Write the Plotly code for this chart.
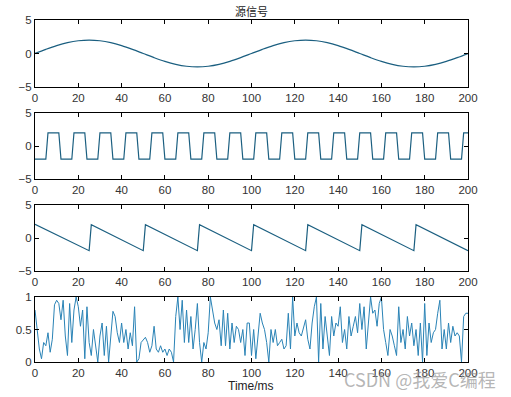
import plotly.graph_objects as go

# ---------------- data ----------------
sine_t = [0, 5, 10, 15, 20, 25, 30, 35, 40, 45, 50, 55, 60, 65, 70, 75, 80, 85, 90, 95,
          100, 105, 110, 115, 120, 125, 130, 135, 140, 145, 150, 155, 160, 165, 170, 175,
          180, 185, 190, 195, 200]
sine_v = [0, 0.618, 1.176, 1.618, 1.902, 2.0, 1.902, 1.618, 1.176, 0.618,
          0, -0.618, -1.176, -1.618, -1.902, -2.0, -1.902, -1.618, -1.176, -0.618,
          0, 0.618, 1.176, 1.618, 1.902, 2.0, 1.902, 1.618, 1.176, 0.618,
          0, -0.618, -1.176, -1.618, -1.902, -2.0, -1.902, -1.618, -1.176, -0.618, 0]

sq_t = [0, 5, 6, 11, 12, 17, 18, 23, 24, 29, 30, 35, 36, 41, 42, 47, 48, 53, 54, 59,
        60, 65, 66, 71, 72, 77, 78, 83, 84, 89, 90, 95, 96, 101, 102, 107, 108, 113,
        114, 119, 120, 125, 126, 131, 132, 137, 138, 143, 144, 149, 150, 155, 156, 161,
        162, 167, 168, 173, 174, 179, 180, 185, 186, 191, 192, 197, 198, 200]
sq_v = [-2, -2, 2, 2, -2, -2, 2, 2, -2, -2, 2, 2, -2, -2, 2, 2, -2, -2, 2, 2,
        -2, -2, 2, 2, -2, -2, 2, 2, -2, -2, 2, 2, -2, -2, 2, 2, -2, -2,
        2, 2, -2, -2, 2, 2, -2, -2, 2, 2, -2, -2, 2, 2, -2, -2,
        2, 2, -2, -2, 2, 2, -2, -2, 2, 2, -2, -2, 2, 2]

saw_t = [0, 25, 26, 50, 51, 75, 76, 100, 101, 125, 126, 150, 151, 175, 176, 200]
saw_v = [2.08, -1.92, 2.0, -1.92, 2.0, -1.92, 2.0, -1.92, 2.0, -1.92, 2.0, -1.92,
         2.0, -1.92, 2.0, -1.92]

noise_v = [
    0.80, 0.45, 0.20, 0.05, 0.30, 0.25, 0.45, 0.15, 0.35, 0.88,
    0.95, 0.90, 0.65, 0.95, 0.40, 0.10, 0.90, 0.30, 0.80, 1.00,
    0.85, 0.55, 0.80, 0.05, 0.85, 0.30, 0.10, 0.50, 0.20, 0.00,
    0.40, 0.60, 0.10, 0.55, 0.00, 0.40, 0.78, 0.70, 0.45, 0.30,
    0.60, 0.30, 0.50, 0.20, 0.45, 0.25, 0.85, 0.00, 0.05, 0.30,
    0.35, 0.38, 0.30, 0.15, 0.25, 0.55, 0.20, 0.15, 0.25, 0.15,
    0.20, 0.10, 0.20, 0.15, 0.00, 0.70, 1.00, 0.50, 0.95, 0.30,
    0.80, 0.30, 0.70, 0.20, 0.50, 0.90, 0.30, 0.00, 0.30, 0.20,
    0.45, 1.00, 0.80, 0.60, 0.50, 0.65, 0.25, 0.80, 0.25, 0.75,
    0.20, 0.60, 0.30, 0.55, 0.50, 0.30, 0.50, 0.10, 0.60, 0.60,
    0.10, 0.50, 0.05, 0.35, 0.75, 0.60, 0.50, 0.30, 0.00, 0.50,
    0.30, 0.50, 0.25, 0.30, 0.35, 0.20, 0.25, 0.75, 0.20, 1.00,
    0.40, 0.60, 0.45, 0.40, 0.55, 0.65, 0.35, 0.20, 0.60, 0.85,
    1.00, 0.00, 0.90, 0.20, 0.70, 0.40, 0.10, 0.70, 0.40, 0.60,
    0.55, 0.85, 0.30, 0.50, 0.20, 0.70, 0.40, 0.55, 0.70, 0.45,
    0.90, 0.50, 0.85, 0.20, 0.65, 1.00, 0.75, 0.80, 0.55, 0.90,
    1.00, 0.50, 0.30, 0.10, 0.50, 0.40, 0.25, 0.10, 0.85, 0.30,
    0.50, 0.20, 0.70, 0.40, 0.60, 0.25, 0.50, 0.10, 0.60, 0.00,
    0.90, 0.10, 0.60, 0.30, 0.45, 0.50, 0.75, 0.95, 0.20, 0.50,
    0.20, 0.60, 0.30, 0.55, 0.40, 0.45, 0.40, 0.00, 0.70, 0.75,
    0.75]
noise_t = list(range(len(noise_v)))

x_ticks = [0, 20, 40, 60, 80, 100, 120, 140, 160, 180, 200]
y_ticks_sig = [-5, 0, 5]
y_ticks_noise = [0, 0.5, 1]

title_text = "源信号"
xlabel_text = "Time/ms"
watermark_text = "CSDN @我爱C编程"

# ---------------- figure ----------------
W, H = 511, 397
PX0, PX1 = 35, 468
PY_TOP, PY_BOT = 20, 362
ML, MR, MT, MB = PX0, W - PX1, PY_TOP, H - PY_BOT
PH = H - MT - MB
PW = W - ML - MR
dark = "#1b5f80"
blue = "#2a83b6"


def py(y_px):
    """target-picture pixel row -> paper y"""
    return (H - MB - y_px) / PH


def px(x_px):
    return (x_px - ML) / PW


fig = go.Figure()
fig.add_trace(go.Scatter(x=sine_t, y=sine_v, mode="lines", line=dict(color=dark, width=1.2, shape="spline"),
                         xaxis="x", yaxis="y"))
fig.add_trace(go.Scatter(x=sq_t, y=sq_v, mode="lines", line=dict(color=dark, width=1.2),
                         xaxis="x2", yaxis="y2"))
fig.add_trace(go.Scatter(x=saw_t, y=saw_v, mode="lines", line=dict(color=dark, width=1.2),
                         xaxis="x3", yaxis="y3"))
fig.add_trace(go.Scatter(x=noise_t, y=noise_v, mode="lines", line=dict(color=blue, width=1),
                         xaxis="x4", yaxis="y4"))

panels = [(20, 87), (113, 179), (205, 271), (297, 362)]

tickfont = dict(family="Liberation Sans, Arial, sans-serif", size=11.5, color="#333333")
axis_common = dict(showline=True, linecolor="black", linewidth=1, mirror="ticks",
                   ticks="inside", ticklen=4, tickcolor="black", showgrid=False,
                   zeroline=False, tickfont=tickfont, automargin=False)

layout = dict(width=W, height=H, margin=dict(l=ML, r=MR, t=MT, b=MB, pad=0),
              paper_bgcolor="white", plot_bgcolor="white", showlegend=False)

for i, (top, bot) in enumerate(panels):
    sfx = "" if i == 0 else str(i + 1)
    layout["xaxis" + sfx] = dict(domain=[0, 1], range=[0, 200], tickvals=x_ticks,
                                 anchor="y" + sfx, **axis_common)
    if i < 3:
        yt = y_ticks_sig
        yr = [-5, 5]
    else:
        yt = y_ticks_noise
        yr = [0, 1]
    layout["yaxis" + sfx] = dict(domain=[py(bot), py(top)], range=yr,
                                 tickvals=yt, anchor="x" + sfx, **axis_common)

fig.update_layout(**layout)

fig.add_annotation(text=title_text, x=px(251), y=py(11), xref="paper", yref="paper",
                   yanchor="middle", showarrow=False,
                   font=dict(family="Noto Sans CJK SC", size=11, color="#222222"))
fig.add_annotation(text=xlabel_text, x=px(251), y=py(386), xref="paper", yref="paper",
                   yanchor="middle", showarrow=False,
                   font=dict(family="Liberation Sans, Arial, sans-serif", size=12, color="#222222"))
fig.add_annotation(text=watermark_text, x=px(498), y=py(379),
                   xref="paper", yref="paper", xanchor="right", yanchor="middle", showarrow=False,
                   font=dict(family="Noto Sans CJK SC", size=18, color="rgba(150,150,150,0.7)"))

fig.write_html("out.html", config={"displayModeBar": False},
               post_script="document.body.style.margin='0px';document.body.style.padding='0px';")
